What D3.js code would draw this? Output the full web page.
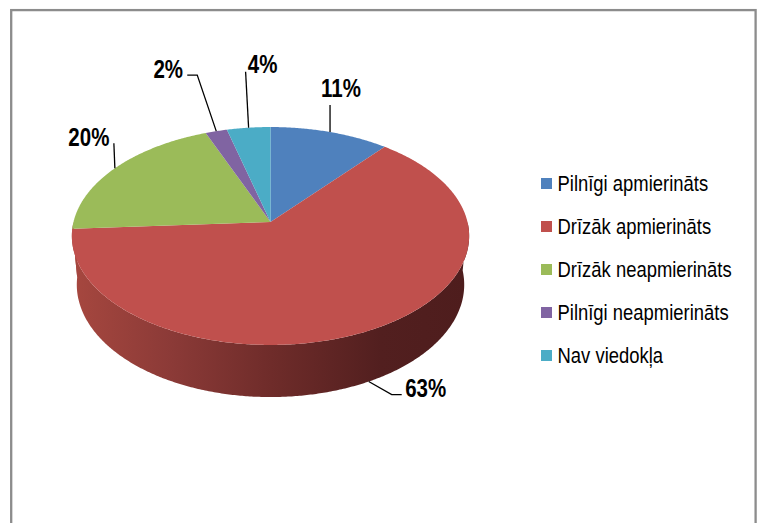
<!DOCTYPE html>
<html>
<head>
<meta charset="utf-8">
<script src="https://cdn.jsdelivr.net/npm/d3@7"></script>
<style>
  html, body { margin: 0; padding: 0; background: #ffffff; }
  svg { display: block; }
</style>
</head>
<body>
<svg id="chart" width="760" height="523"></svg>
<script>
// ---- data ----
const categories = ["Pilnīgi apmierināts", "Drīzāk apmierināts", "Drīzāk neapmierināts", "Pilnīgi neapmierināts", "Nav viedokļa"];
const values = [11, 63, 20, 2, 4];
const valueLabels = ["11%", "63%", "20%", "2%", "4%"];
const colors = ["#4f81bd", "#c0504d", "#9bbb59", "#8064a2", "#4bacc6"];

// ---- layout (label placement relative to the leader start) ----
const labelLayout = [
  { leader: [[0, -27]], text: [11, -35] },
  { leader: [[23, 13], [33, 13]], text: [57, 15] },
  { leader: [[-1, -25]], text: [-26, -22] },
  { leader: [[-19, -56], [-29, -56]], text: [-48, -53] },
  { leader: [[-3, -56]], text: [14, -55] }
];

const svg = d3.select("#chart");
const W = 760, H = 523;
const narrow = 0.82;

svg.append("rect").attr("width", W).attr("height", H).attr("fill", "#ffffff");
// chart frame (bottom edge is off-canvas)
svg.append("rect")
  .attr("x", 11.2).attr("y", 10.1).attr("width", 744.4).attr("height", 600)
  .attr("fill", "none").attr("stroke", "#8c8c8c").attr("stroke-width", 2.3);

// ---- perspective projection of a flat cylinder ----
const cx = 270.5, cy = 222;
const sinA = 0.544, cosA = Math.sqrt(1 - sinA * sinA);
const Dcam = 1, R = 0.153, F = 1287.6, depthH = 0.0461;

function project(theta, r, y) {
  const x3 = r * R * Math.sin(theta);
  const z3 = r * R * Math.cos(theta);
  const depth = Dcam - y * sinA + z3 * cosA;
  return [cx + F * x3 / depth, cy - F * (y * cosA + z3 * sinA) / depth];
}

const pie = d3.pie().sort(null).value(d => d)(values);
const line = d3.line();
const step = Math.PI / 360;

function rimPoints(a0, a1, y) {
  const pts = [];
  const n = Math.max(2, Math.ceil((a1 - a0) / step));
  for (let i = 0; i <= n; i++) pts.push(project(a0 + (a1 - a0) * i / n, 1, y));
  return pts;
}

// gradient for the visible side wall
const defs = svg.append("defs");
const grad = defs.append("linearGradient")
  .attr("id", "sideGrad").attr("gradientUnits", "userSpaceOnUse")
  .attr("x1", project(-Math.PI / 2, 1, 0)[0]).attr("y1", 0)
  .attr("x2", project(Math.PI / 2, 1, 0)[0]).attr("y2", 0);
[[0, "#a6473f"], [0.25, "#8b3a37"], [0.5, "#6f2c2a"], [0.78, "#521f1f"], [1, "#4e1d1d"]]
  .forEach(([o, c]) => grad.append("stop").attr("offset", o).attr("stop-color", c));

// side walls (front half only)
const gSide = svg.append("g");
pie.forEach((p, i) => {
  const a0 = Math.max(p.startAngle, Math.PI / 2);
  const a1 = Math.min(p.endAngle, 3 * Math.PI / 2);
  if (a1 <= a0) return;
  const top = rimPoints(a0, a1, 0);
  const bottom = rimPoints(a0, a1, -depthH).reverse();
  gSide.append("path")
    .attr("d", line(top.concat(bottom)) + "Z")
    .attr("fill", "url(#sideGrad)");
});

// top faces
const gTop = svg.append("g");
pie.forEach((p, i) => {
  const pts = [project(0, 0, 0)].concat(rimPoints(p.startAngle, p.endAngle, 0));
  gTop.append("path")
    .attr("d", line(pts) + "Z")
    .attr("fill", colors[i]);
});

// condensed text helper (horizontally compressed Liberation Sans)
const font = "'Liberation Sans', Arial, sans-serif";
function narrowText(g, x, y, str, size, weight, anchor) {
  return g.append("text")
    .attr("transform", `translate(${x},${y}) scale(${narrow},1)`)
    .attr("text-anchor", anchor)
    .attr("font-family", font).attr("font-weight", weight).attr("font-size", size)
    .attr("fill", "#000000")
    .text(str);
}

// data labels with leader lines
const gLab = svg.append("g");
pie.forEach((p, i) => {
  const mid = (p.startAngle + p.endAngle) / 2;
  const front = Math.cos(mid) < 0;
  const start = project(mid, 1, front ? -depthH : 0);
  const L = labelLayout[i];
  const pts = [start].concat(L.leader.map(d => [start[0] + d[0], start[1] + d[1]]));
  gLab.append("path")
    .attr("d", line(pts))
    .attr("fill", "none").attr("stroke", "#000000").attr("stroke-width", 1.3);
  narrowText(gLab, start[0] + L.text[0], start[1] + L.text[1], valueLabels[i], 25, "bold", "middle");
});

// legend
const legendY = d3.scaleBand().domain(categories).range([168, 383]);
const gLeg = svg.append("g");
categories.forEach((c, i) => {
  const y = legendY(c);
  gLeg.append("rect")
    .attr("x", 541).attr("y", y + 10).attr("width", 11).attr("height", 11)
    .attr("fill", colors[i]);
  narrowText(gLeg, 557.5, y + 22.7, c, 22.5, "normal", "start");
});
</script>
</body>
</html>
